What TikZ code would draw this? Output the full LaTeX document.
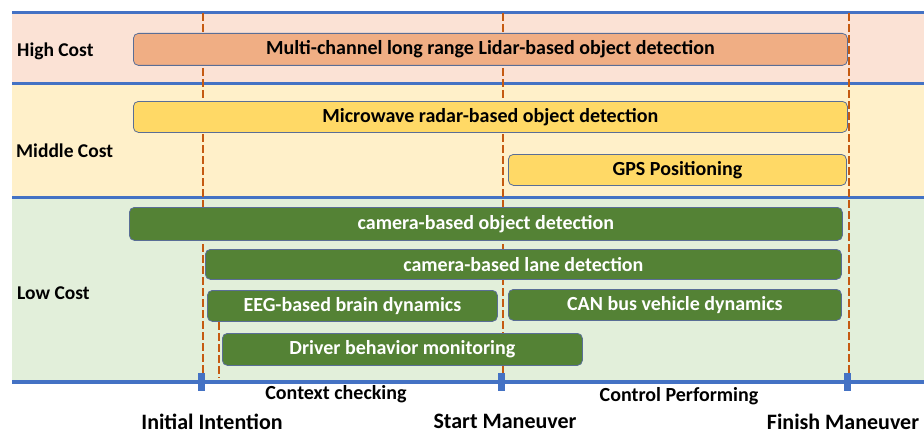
\documentclass[tikz,border=0pt]{standalone}
\usepackage{fontspec}
\setmainfont{Carlito}
\usetikzlibrary{calc}
\definecolor{highband}{HTML}{FBE2D5}
\definecolor{midband}{HTML}{FFF0C9}
\definecolor{lowband}{HTML}{E2EFDA}
\definecolor{axisblue}{HTML}{4472C4}
\definecolor{dashorange}{HTML}{C55A11}
\definecolor{lidarfill}{HTML}{F0AE84}
\definecolor{radarfill}{HTML}{FFD966}
\definecolor{camfill}{HTML}{548235}
\definecolor{barline}{HTML}{5A6E96}

\begin{document}
\begin{tikzpicture}[x=1pt,y=-1pt,
    bar/.style={rounded corners=5pt,draw=barline,line width=0.8pt,anchor=north west,inner sep=0pt,font=\bfseries\fontsize{20}{24}\selectfont},
    lowbar/.style={bar,fill=camfill,text=white},
    costlabel/.style={anchor=west,inner sep=0pt,font=\bfseries\fontsize{19.5}{24}\selectfont},
    phaselabel/.style={inner sep=0pt,font=\bfseries\fontsize{20}{24}\selectfont},
    eventlabel/.style={inner sep=0pt,font=\bfseries\fontsize{22}{26}\selectfont}]
    \useasboundingbox (0,0) rectangle (924,436);
    % bands
    \fill[highband] (12,13) rectangle (924,84);
    \fill[midband] (12,84) rectangle (924,197);
    \fill[lowband] (12,197) rectangle (924,382);
    \foreach \y in {13,84,197}{
        \draw[axisblue,line width=3pt] (12,\y)--(924,\y);
    }
    % time marks
    \foreach \x in {203,503,849}{
        \draw[dashorange,line width=2.2pt,dash pattern=on 8pt off 3pt] (\x,13)--(\x,376);
    }
    \draw[dashorange,line width=2.2pt,dash pattern=on 8pt off 3pt] (219,322)--(219,378);
    \draw[axisblue,line width=4pt] (12,382)--(924,382);
    \foreach \x in {201,501,847}{
        \fill[axisblue] (\x-3.5,373) rectangle (\x+3.5,391);
    }
    \node[costlabel] (high) at (17,51) {High Cost};
    \node[costlabel] (middle) at (16,151) {Middle Cost};
    \node[costlabel] (low) at (17,293) {Low Cost};
    % sensors
    \node[bar,fill=lidarfill,minimum width=714pt,minimum height=32pt] (lidar) at (133,33) {Multi-channel long range Lidar-based object detection};
    \node[bar,fill=radarfill,minimum width=714pt,minimum height=31pt] (radar) at (133,101) {Microwave radar-based object detection};
    \node[bar,fill=radarfill,minimum width=338pt,minimum height=31pt] (gps) at (508,154) {GPS Positioning};
    \node[lowbar,minimum width=713pt,minimum height=33pt] (camobj) at (129,207) {camera-based object detection};
    \node[lowbar,minimum width=636pt,minimum height=30pt] (camlane) at (205,249) {camera-based lane detection};
    \node[lowbar,minimum width=290pt,minimum height=31pt] (eeg) at (207,290) {EEG-based brain dynamics};
    \node[lowbar,minimum width=333pt,minimum height=31pt] (can) at (508,289) {CAN bus vehicle dynamics};
    \node[lowbar,minimum width=360pt,minimum height=32pt] (driver) at (222,333) {Driver behavior monitoring};
    % phases and events
    \node[phaselabel] (context) at (336,394) {Context checking};
    \node[phaselabel] (control) at (679,396) {Control Performing};
    \node[eventlabel] (initial) at (212,422) {Initial Intention};
    \node[eventlabel] (start) at (505,421) {Start Maneuver};
    \node[eventlabel] (finish) at (843,422) {Finish Maneuver};
\end{tikzpicture}
\end{document}
